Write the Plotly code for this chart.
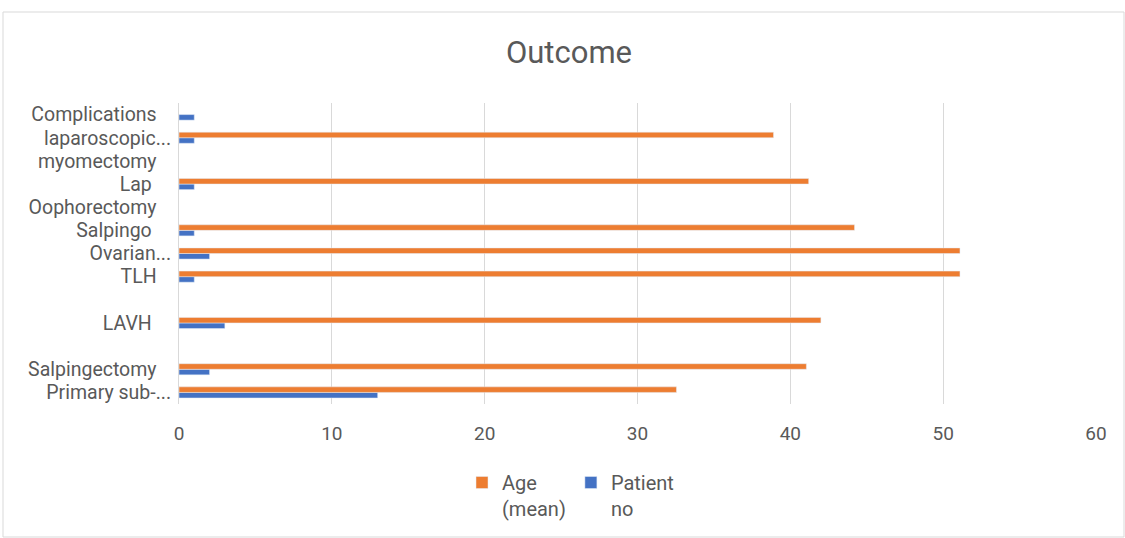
import plotly.graph_objects as go

NB = "\u00a0"
categories = ["Primary sub-...", "Salpingectomy" + NB * 3, NB, "LAVH" + NB * 4, NB * 2,
              "TLH" + NB * 3, "Ovarian...", "Salpingo" + NB * 4, "Oophorectomy" + NB * 3,
              "Lap" + NB * 4, "myomectomy" + NB * 3, "laparoscopic...", "Complications" + NB * 3]
age_mean = [32.55, 41.05, None, 42.0, None, 51.1, 51.1, 44.2, None, 41.2, None, 38.9, None]
patient_no = [13, 2, None, 3, None, 1, 2, 1, None, 1, None, 1, 1]
x_ticks = [0, 10, 20, 30, 40, 50, 60]

FONT = "Roboto, 'Open Sans', sans-serif"
GREY = "#595959"

fig = go.Figure()
fig.add_trace(go.Bar(y=categories, x=patient_no, orientation="h", name="Patient<br>no",
                     marker=dict(color="#4472C4"), legendrank=2))
fig.add_trace(go.Bar(y=categories, x=age_mean, orientation="h", name="Age<br>(mean)",
                     marker=dict(color="#ED7D31"), legendrank=1))

L, R, T, B = 179, 1096, 103, 404
W, H = 1125, 538
pw, ph = R - L, B - T

def px_x(x):
    return (x - L) / pw

def px_y(y):
    return (B - y) / ph

fig.update_layout(
    width=W, height=H,
    margin=dict(l=L, r=W - R, t=T, b=H - B, autoexpand=False),
    paper_bgcolor="white", plot_bgcolor="white",
    barmode="group", bargap=0.52, bargroupgap=0,
    font=dict(family=FONT, color=GREY, size=19),
    title=dict(text="Outcome", x=569 / W, xref="container", xanchor="center",
               y=1 - 52 / H, yref="container", yanchor="middle",
               font=dict(size=31, color=GREY, family=FONT)),
    xaxis=dict(range=[0, 60], tickvals=x_ticks, showgrid=True, gridcolor="#d9d9d9",
               gridwidth=1, zeroline=False, showline=False, ticks="", automargin=False,
               ticklabelstandoff=16, tickfont=dict(size=19, color=GREY)),
    yaxis=dict(type="category", categoryorder="array", categoryarray=categories,
               showline=True, linecolor="#d9d9d9", linewidth=1, ticks="", automargin=False,
               showgrid=False, tickfont=dict(size=19.5, color=GREY), ticklabelstandoff=3),
    legend=dict(orientation="h", x=px_x(462), xanchor="left", y=px_y(463), yanchor="top",
                valign="top", font=dict(size=20, color=GREY), itemwidth=30,
                traceorder="normal"),
    shapes=[dict(type="rect", xref="paper", yref="paper",
                 x0=px_x(3), x1=px_x(1124), y0=px_y(537), y1=px_y(12),
                 line=dict(color="#d9d9d9", width=1), fillcolor="rgba(0,0,0,0)")],
)

fig.write_html("out.html", config={"displayModeBar": False},
               post_script="document.body.style.margin='0';document.body.style.overflow='hidden';")
